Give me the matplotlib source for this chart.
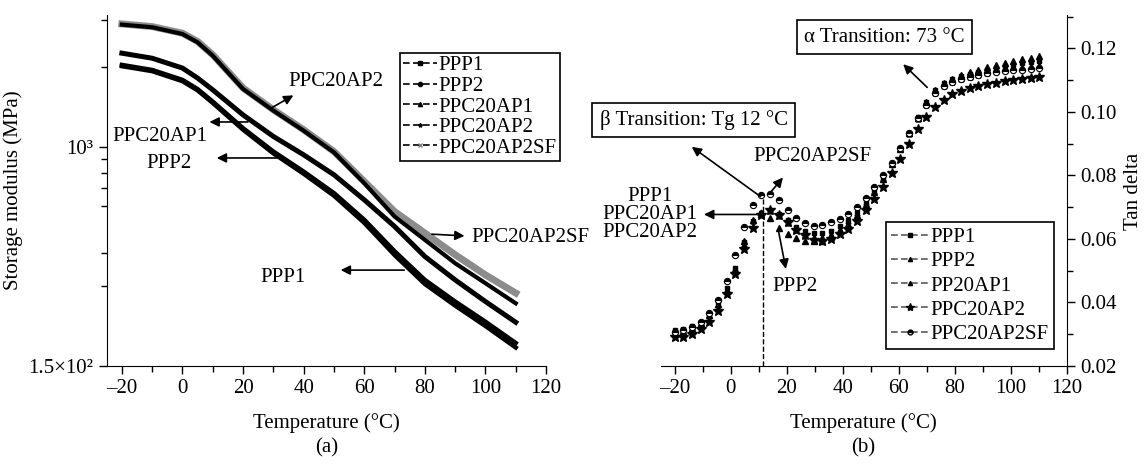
import matplotlib
matplotlib.use("Agg")
import matplotlib.pyplot as plt
from matplotlib.lines import Line2D
from matplotlib.ticker import FixedLocator, NullFormatter, MultipleLocator

plt.rcParams['font.family'] = ['Liberation Serif', 'DejaVu Serif']
plt.rcParams['font.size'] = 15
plt.rcParams['axes.unicode_minus'] = False

# ---- (a) storage modulus, MPa ----
temp_a = [-20, -10, 0, 5, 10, 20, 30, 40, 50, 60, 70, 80, 90, 100, 110]
ppp1_e = [2010, 1925, 1765, 1630, 1462, 1160, 945, 792, 655, 518, 392, 305, 253, 212, 176]
ppp2_e = [2032, 1945, 1785, 1648, 1479, 1175, 960, 807, 670, 532, 405, 316, 262, 220, 183]
ppc20ap1_e = [2249, 2153, 1977, 1813, 1637, 1318, 1094, 933, 785, 632, 502, 387, 316, 262, 219]
ppc20ap2_e = [2880, 2815, 2655, 2470, 2200, 1650, 1368, 1150, 953, 730, 547, 447, 365, 307, 258]
ppc20ap2sf_e = [2897, 2831, 2673, 2489, 2218, 1663, 1378, 1159, 960, 741, 571, 474, 393, 330, 282]

# ---- (b) tan delta ----
temp_b = [-20, -16.9, -13.8, -10.7, -7.6, -4.5, -1.4, 1.7, 4.8, 7.9, 11.0, 14.1, 17.2, 20.3,
          23.4, 26.5, 29.6, 32.7, 35.8, 38.9, 42.0, 45.1, 48.2, 51.3, 54.4, 57.5, 60.6, 63.7,
          66.8, 69.9, 73.0, 76.1, 79.2, 82.3, 85.4, 88.5, 91.6, 94.7, 97.8, 100.9, 104.0, 107.1, 110.2]
ppp1_t = [0.0312, 0.0316, 0.0325, 0.0340, 0.0365, 0.0400, 0.0445, 0.0510, 0.0590, 0.0655, 0.0682,
          0.0690, 0.0680, 0.0660, 0.0638, 0.0625, 0.0618, 0.0618, 0.0625, 0.0640, 0.0660, 0.0685,
          0.0718, 0.0755, 0.0795, 0.0838, 0.0885, 0.0935, 0.0985, 0.1030, 0.1068, 0.1090, 0.1103,
          0.1112, 0.1120, 0.1127, 0.1133, 0.1139, 0.1144, 0.1149, 0.1153, 0.1157, 0.1160]
ppp2_t = [0.0305, 0.0310, 0.0320, 0.0336, 0.0362, 0.0396, 0.0440, 0.0505, 0.0595, 0.0660, 0.0680,
          0.0665, 0.0635, 0.0615, 0.0602, 0.0595, 0.0592, 0.0595, 0.0605, 0.0625, 0.0648, 0.0675,
          0.0710, 0.0748, 0.0790, 0.0835, 0.0882, 0.0932, 0.0982, 0.1030, 0.1070, 0.1092, 0.1105,
          0.1115, 0.1125, 0.1133, 0.1141, 0.1149, 0.1155, 0.1161, 0.1166, 0.1171, 0.1175]
pp20ap1_t = [0.0300, 0.0305, 0.0316, 0.0333, 0.0358, 0.0392, 0.0435, 0.0500, 0.0585, 0.0655, 0.0685,
             0.0688, 0.0672, 0.0650, 0.0628, 0.0612, 0.0605, 0.0606, 0.0615, 0.0632, 0.0655, 0.0682,
             0.0715, 0.0752, 0.0792, 0.0836, 0.0882, 0.0930, 0.0978, 0.1022, 0.1058, 0.1080, 0.1093,
             0.1102, 0.1110, 0.1116, 0.1122, 0.1128, 0.1133, 0.1137, 0.1141, 0.1144, 0.1147]
ppc20ap2_t = [0.0290, 0.0292, 0.0300, 0.0315, 0.0340, 0.0372, 0.0428, 0.0490, 0.0568, 0.0635, 0.0675,
              0.0690, 0.0675, 0.0652, 0.0628, 0.0612, 0.0598, 0.0594, 0.0600, 0.0615, 0.0632, 0.0658,
              0.0690, 0.0725, 0.0765, 0.0808, 0.0852, 0.0900, 0.0945, 0.0985, 0.1015, 0.1038, 0.1055,
              0.1067, 0.1075, 0.1081, 0.1087, 0.1092, 0.1096, 0.1100, 0.1104, 0.1107, 0.1111]
ppc20ap2sf_t = [0.0308, 0.0314, 0.0324, 0.0340, 0.0366, 0.0408, 0.0468, 0.0548, 0.0636, 0.0708, 0.0738,
                0.0742, 0.0722, 0.0692, 0.0666, 0.0650, 0.0642, 0.0643, 0.0652, 0.0664, 0.0680, 0.0702,
                0.0730, 0.0763, 0.0800, 0.0840, 0.0885, 0.0933, 0.0980, 0.1022, 0.1058, 0.1080, 0.1094,
                0.1104, 0.1111, 0.1117, 0.1121, 0.1125, 0.1128, 0.1131, 0.1133, 0.1135, 0.1137]
tg_beta = 11.5

fig = plt.figure(figsize=(11.45, 4.67), dpi=100)
ax1 = fig.add_axes([0.0932, 0.2163, 0.3837, 0.7516])
ax2 = fig.add_axes([0.5770, 0.2163, 0.3546, 0.7516])

# ----- panel (a) -----
ax1.plot(temp_a, ppp1_e, color='black', lw=3.2)
ax1.plot(temp_a, ppp2_e, color='black', lw=3.2)
ax1.plot(temp_a, ppc20ap1_e, color='black', lw=3.6)
ax1.plot(temp_a, ppc20ap2sf_e, color='0.55', lw=5)
ax1.plot(temp_a, ppc20ap2_e, color='black', lw=3)
ax1.set_yscale('log')
ax1.set_xlim(-25, 120)
ax1.set_ylim(150, 3130)
ax1.yaxis.set_major_locator(FixedLocator([150, 1000]))
ax1.set_yticklabels(['1.5×10²', '10³'])
ax1.yaxis.set_minor_locator(FixedLocator([300, 400, 600, 700, 800, 900, 2000, 3000]))
ax1.yaxis.set_minor_formatter(NullFormatter())
ax1.xaxis.set_minor_locator(MultipleLocator(10))
ax1.set_xticks(range(-20, 121, 20))
ax1.set_xticklabels(['–20', '0', '20', '40', '60', '80', '100', '120'])
ax1.spines['top'].set_visible(False)
ax1.spines['right'].set_visible(False)
ax1.tick_params(which='major', length=6, width=1)
ax1.tick_params(which='minor', length=4, width=1)
ax1.set_xlabel('Temperature (°C)')
ax1.xaxis.set_label_coords(0.5, -0.135)
ax1.set_ylabel('Storage modulus (MPa)')
ax1.yaxis.set_label_coords(-0.19, 0.5)
ax1.text(0.5, -0.232, '(a)', transform=ax1.transAxes, ha='center', va='center')

h1 = [Line2D([], [], color='black', lw=1.2, ls=(0, (4, 2)), marker='s', ms=2.5),
      Line2D([], [], color='black', lw=1.2, ls=(0, (4, 2)), marker='o', ms=3),
      Line2D([], [], color='black', lw=1.2, ls=(0, (4, 2)), marker='^', ms=3),
      Line2D([], [], color='black', lw=1.2, ls=(0, (4, 2)), marker='*', ms=3),
      Line2D([], [], color='black', lw=1.2, ls=(0, (4, 2)), marker='x', ms=2.5, mec='0.5')]
leg1 = ax1.legend(h1, ['PPP1', 'PPP2', 'PPC20AP1', 'PPC20AP2', 'PPC20AP2SF'],
                  loc='upper right', bbox_to_anchor=(1.032, 0.893), fancybox=False,
                  edgecolor='black', framealpha=1, borderpad=0.15, labelspacing=0.05,
                  handlelength=1.6, handletextpad=0.1, borderaxespad=0, fontsize=15)
leg1.get_frame().set_linewidth(1.2)

arr = dict(arrowstyle='-|>', color='black', lw=1.2, mutation_scale=14)
ax1.annotate('', xy=(37.4, 1580), xytext=(28.2, 1376), arrowprops=arr)
ax1.text(50.6, 1753, 'PPC20AP2', ha='center', va='center')
ax1.annotate('', xy=(8.0, 1240), xytext=(22.5, 1240), arrowprops=arr)
ax1.text(-7.5, 1089, 'PPC20AP1', ha='center', va='center')
ax1.annotate('', xy=(10.4, 908), xytext=(32.5, 908), arrowprops=arr)
ax1.text(-4.5, 869, 'PPP2', ha='center', va='center')
ax1.annotate('', xy=(94, 462), xytext=(81.4, 470), arrowprops=arr)
ax1.text(95.4, 458, 'PPC20AP2SF', ha='left', va='center')
ax1.annotate('', xy=(51.3, 344), xytext=(74.1, 344), arrowprops=arr)
ax1.text(33.1, 324, 'PPP1', ha='center', va='center')

# ----- panel (b) -----
ax2.plot(temp_b, ppp1_t, ls='none', marker='s', ms=3, color='black')
ax2.plot(temp_b, ppp2_t, ls='none', marker='^', ms=4, color='black')
ax2.plot(temp_b, pp20ap1_t, ls='none', marker='^', ms=3.5, color='black')
ax2.plot(temp_b, ppc20ap2_t, ls='none', marker='*', ms=7, color='black')
ax2.plot(temp_b, ppc20ap2sf_t, ls='none', marker='o', ms=4.5, color='black',
         fillstyle='top', markerfacecoloralt='white', mew=0.8)
ax2.plot([tg_beta, tg_beta], [0.02, 0.0728], ls='--', color='black', lw=1)
ax2.set_xlim(-25, 120)
ax2.set_ylim(0.02, 0.1305)
ax2.set_xticks(range(-20, 121, 20))
ax2.set_xticklabels(['–20', '0', '20', '40', '60', '80', '100', '120'])
ax2.xaxis.set_minor_locator(MultipleLocator(10))
ax2.yaxis.set_major_locator(FixedLocator([0.02, 0.04, 0.06, 0.08, 0.10, 0.12]))
ax2.yaxis.set_minor_locator(MultipleLocator(0.01))
ax2.set_yticklabels(['0.02', '0.04', '0.06', '0.08', '0.10', '0.12'])
ax2.yaxis.tick_right()
ax2.spines['top'].set_visible(False)
ax2.spines['left'].set_visible(False)
ax2.tick_params(which='major', length=6, width=1)
ax2.tick_params(which='minor', length=4, width=1)
ax2.set_xlabel('Temperature (°C)')
ax2.xaxis.set_label_coords(0.5, -0.135)
fig.text(1134 / 1145, 0.59, 'Tan delta', rotation=90, ha='center', va='center')
ax2.text(0.5, -0.232, '(b)', transform=ax2.transAxes, ha='center', va='center')

h2 = [Line2D([], [], color='0.35', lw=1.2, ls=(0, (4, 2)), marker='s', ms=2.5, mfc='black', mec='black'),
      Line2D([], [], color='0.35', lw=1.2, ls=(0, (4, 2)), marker='^', ms=3, mfc='black', mec='black'),
      Line2D([], [], color='0.35', lw=1.2, ls=(0, (4, 2)), marker='^', ms=3, mfc='black', mec='black'),
      Line2D([], [], color='0.35', lw=1.2, ls=(0, (4, 2)), marker='*', ms=6, mfc='black', mec='black'),
      Line2D([], [], color='0.35', lw=1.2, ls=(0, (4, 2)), marker='o', ms=3.5, fillstyle='top',
             mfc='black', mec='black', markerfacecoloralt='white')]
leg2 = ax2.legend(h2, ['PPP1', 'PPP2', 'PP20AP1', 'PPC20AP2', 'PPC20AP2SF'],
                  loc='lower right', bbox_to_anchor=(0.969, 0.048), fancybox=False,
                  edgecolor='black', framealpha=1, borderpad=0.25, labelspacing=0.22,
                  handlelength=1.8, handletextpad=0.1, borderaxespad=0, fontsize=15)
leg2.get_frame().set_linewidth(1.2)

box = dict(boxstyle='square,pad=0.35', fc='white', ec='black', lw=1.2)
ax2.text(55, 0.1235, 'α Transition: 73 °C', ha='center', va='center', bbox=box)
ax2.annotate('', xy=(60.9, 0.1156), xytext=(70.9, 0.1071), arrowprops=arr)
ax2.text(-13.2, 0.0974, 'β Transition: Tg 12 °C', ha='center', va='center', bbox=box)
ax2.annotate('', xy=(-14.7, 0.0895), xytext=(11.5, 0.0728), arrowprops=arr)
ax2.text(29.2, 0.086, 'PPC20AP2SF', ha='center', va='center')
ax2.annotate('', xy=(19.3, 0.080), xytext=(13.9, 0.0743), arrowprops=arr)
ax2.text(-28.9, 0.0677, 'PPP1\nPPC20AP1\nPPC20AP2', ha='center', va='center', linespacing=0.95)
ax2.annotate('', xy=(-10.5, 0.0677), xytext=(10.4, 0.0677), arrowprops=arr)
ax2.text(15, 0.045, 'PPP2', ha='left', va='center')
ax2.annotate('', xy=(19.9, 0.0497), xytext=(16.9, 0.0633), arrowprops=arr)

fig.savefig('out.png', dpi=100)
